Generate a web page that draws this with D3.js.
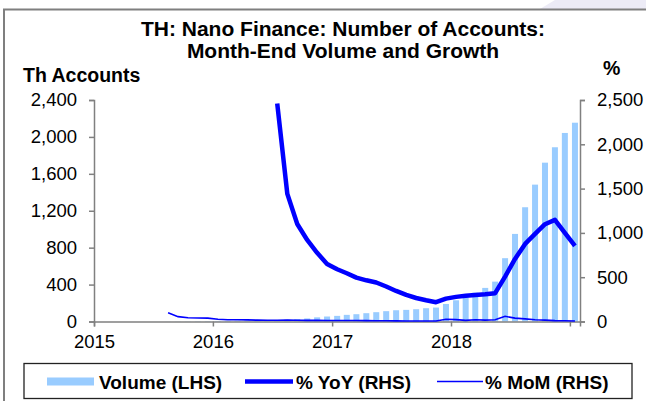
<!DOCTYPE html>
<head>
  <meta charset="utf-8" />
  <script src="https://d3js.org/d3.v7.min.js"></script>
  <style>
    body { margin: 0; background: #fff; }
    text { font-family: Arial, "Liberation Sans", sans-serif; fill: #000; }
  </style>
</head>

<body>
  <div id="chart"></div>

  <script>
    // series, one value per month from Jul 2015 to Jan 2019
    var firstMonth = new Date(2015, 6, 1);
    var volume = [0.7, 1.3, 1.9, 2.5, 3.4, 4.6, 5.8, 7, 8.4, 9.8, 11.5, 13.5,
      16, 20, 26, 33, 45, 54, 61, 72, 79, 90, 101, 112, 122, 126, 133, 144,
      151, 190, 230, 259, 313, 364, 432, 686, 949, 1238, 1483, 1721, 1888, 2043, 2154];
    // % YoY starts Jul 2016
    var yoy = [2460, 1440, 1100, 920, 775, 650, 590, 545, 495, 465, 440, 395,
      345, 300, 265, 240, 218, 258, 278, 290, 300, 308, 320, 507, 706, 876,
      988, 1098, 1147, 1000, 853];
    // % MoM starts Aug 2015
    var mom = [100, 55, 42, 40, 38, 25, 20, 20, 18, 15, 14, 14, 15, 14, 13, 13,
      12, 12, 11, 11, 10, 9, 8, 7, 6, 6, 6, 5, 26, 21, 13, 20, 16, 19, 59, 38,
      30, 20, 16, 10, 8, 5];

    var leftTicks = [0, 400, 800, 1200, 1600, 2000, 2400];
    var rightTicks = [0, 500, 1000, 1500, 2000, 2500];
    var yearTicks = [2015, 2016, 2017, 2018, 2019];
    var yearLabels = ["2015", "2016", "2017", "2018", ""];

    var width = 646, height = 401;
    var x0 = 94, x1 = 580, yTop = 100, yBottom = 321.5;

    var svg = d3.select("#chart").append("svg")
      .attr("width", width)
      .attr("height", height);

    // decoration top right + frame
    svg.append("path")
      .attr("d", "M555,0 L646,0 L646,9 L540,9 Z")
      .style("fill", "#ecebf6");
    svg.append("path")
      .attr("d", "M4,401 L4,9.5 L646,9.5")
      .style("fill", "none")
      .style("stroke", "#7f7f7f")
      .style("stroke-width", 2);

    // echelles
    var months = d3.timeMonth.range(firstMonth, new Date(2019, 1, 1));
    var xScale = d3.scaleTime()
      .domain([new Date(2015, 0, 1), new Date(2019, 1, 1)])
      .range([x0, x1]);
    var yLeft = d3.scaleLinear().domain([0, 2400]).range([yBottom, yTop]);
    var yRight = d3.scaleLinear().domain([0, 2500]).range([yBottom, yTop]);

    function midMonth(d) {
      return (xScale(d) + xScale(d3.timeMonth.offset(d, 1))) / 2;
    }

    // barres
    svg.append("g")
      .selectAll("rect")
      .data(volume)
      .join("rect")
      .attr("x", function (d, i) { return midMonth(months[i]) - 3; })
      .attr("width", 6)
      .attr("y", function (d) { return yLeft(d); })
      .attr("height", function (d) { return yBottom - yLeft(d); })
      .style("fill", "#99ccff");

    // axes
    function styleAxis(g) {
      g.selectAll("path, line").style("stroke", "#808080").style("stroke-width", 1.5);
      g.selectAll("text").style("font-size", "18.5px").style("font-family", "Arial, 'Liberation Sans', sans-serif");
    }

    svg.append("g")
      .attr("transform", "translate(" + x0 + ",0)")
      .call(d3.axisLeft(yLeft).tickValues(leftTicks).tickSizeOuter(0).tickSize(5).tickPadding(12)
        .tickFormat(d3.format(",")))
      .call(styleAxis);

    svg.append("g")
      .attr("transform", "translate(" + x1 + ",0)")
      .call(d3.axisRight(yRight).tickValues(rightTicks).tickSizeOuter(0).tickSize(5).tickPadding(12)
        .tickFormat(d3.format(",")))
      .call(styleAxis);

    var xAxis = svg.append("g")
      .attr("transform", "translate(0," + yBottom + ")")
      .call(d3.axisBottom(xScale)
        .tickValues(yearTicks.map(function (y) { return new Date(y, 0, 1); }))
        .tickSizeOuter(0).tickSize(5)
        .tickFormat(function (d, i) { return yearLabels[i]; }))
      .call(styleAxis);
    xAxis.selectAll("text").attr("y", 13).attr("dy", "0.71em");

    // lignes
    var momLine = d3.line()
      .x(function (d, i) { return midMonth(months[i + 1]); })
      .y(function (d) { return yRight(d); });
    var yoyLine = d3.line()
      .x(function (d, i) { return midMonth(months[i + 12]); })
      .y(function (d) { return yRight(d); });

    svg.append("path")
      .datum(mom)
      .attr("d", momLine)
      .style("fill", "none")
      .style("stroke", "#0000ff")
      .style("stroke-width", 1.6);

    svg.append("path")
      .datum(yoy)
      .attr("d", yoyLine)
      .style("fill", "none")
      .style("stroke", "#0000ff")
      .style("stroke-width", 4.5)
      .style("stroke-linejoin", "round");

    // titres
    svg.append("text")
      .attr("x", 343).attr("y", 36)
      .attr("text-anchor", "middle")
      .style("font-size", "21px").style("font-weight", "bold")
      .text("TH: Nano Finance: Number of Accounts:");
    svg.append("text")
      .attr("x", 343).attr("y", 58)
      .attr("text-anchor", "middle")
      .style("font-size", "21px").style("font-weight", "bold")
      .text("Month-End Volume and Growth");
    svg.append("text")
      .attr("x", 23).attr("y", 82)
      .style("font-size", "19.5px").style("font-weight", "bold")
      .text("Th Accounts");
    svg.append("text")
      .attr("x", 603).attr("y", 75)
      .style("font-size", "19.5px").style("font-weight", "bold")
      .text("%");

    // legende
    var legend = svg.append("g");
    legend.append("rect")
      .attr("x", 24).attr("y", 363.5)
      .attr("width", 608).attr("height", 35)
      .style("fill", "#fff")
      .style("stroke", "#222")
      .style("stroke-width", 1.3);
    legend.append("rect")
      .attr("x", 47).attr("y", 377.5).attr("width", 47).attr("height", 8)
      .style("fill", "#99ccff");
    legend.append("line")
      .attr("x1", 245).attr("x2", 293).attr("y1", 381.5).attr("y2", 381.5)
      .style("stroke", "#0000ff").style("stroke-width", 4.5);
    legend.append("line")
      .attr("x1", 437).attr("x2", 483).attr("y1", 381.5).attr("y2", 381.5)
      .style("stroke", "#0000ff").style("stroke-width", 1.6);

    var legendItems = [["Volume (LHS)", 99], ["% YoY (RHS)", 296], ["% MoM (RHS)", 485]];
    legend.selectAll("text.leg")
      .data(legendItems)
      .join("text")
      .attr("class", "leg")
      .attr("x", function (d) { return d[1]; })
      .attr("y", 388.5)
      .style("font-size", "19px").style("font-weight", "bold")
      .text(function (d) { return d[0]; });
  </script>
</body>
